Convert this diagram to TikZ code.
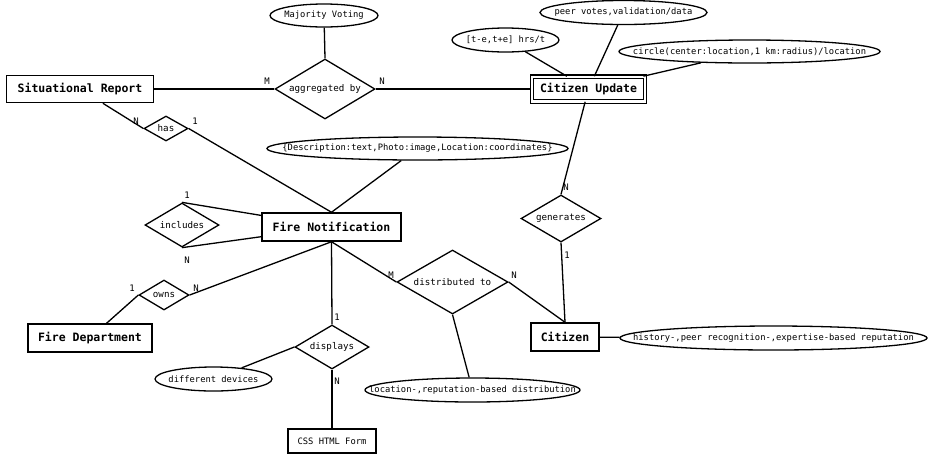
\documentclass[tikz,border=0pt]{standalone}
\usepackage{fontspec}
\usetikzlibrary{shapes.geometric, positioning}
\newfontfamily\ermono{DejaVu Sans Mono}
\newcommand{\fixw}[1]{\makebox[0pt]{#1}}
\tikzset{
  entity/.style={draw, rectangle, line width=1.5pt, inner sep=0pt, font=\ermono\fontsize{11.5}{13}\selectfont\bfseries},
  weakentity/.style={entity, line width=1.1pt, double, double distance=2.5pt},
  relation/.style={draw, diamond, line width=1.3pt, inner sep=0pt, font=\ermono\fontsize{9.2}{11}\selectfont},
  attr/.style={draw, ellipse, line width=1.3pt, inner sep=0pt, font=\ermono\fontsize{8.8}{10}\selectfont},
  card/.style={font=\ermono\fontsize{9}{10}\selectfont, inner sep=0pt},
  link/.style={line width=1.3pt}
}
\begin{document}
\begin{tikzpicture}[x=1pt, y=-1pt]
    \useasboundingbox (0,0) rectangle (933,456);
    % entities
    \node[entity, minimum width=147, minimum height=27] (sr) at (80,89) {Situational Report};
    \node[weakentity, minimum width=113, minimum height=24.5] (cu) at (588.5,89) {Citizen Update};
    \node[entity, minimum width=139, minimum height=28] (fn) at (331.5,227) {Fire Notification};
    \node[entity, minimum width=124, minimum height=28] (fd) at (90,338) {Fire Department};
    \node[entity, minimum width=68, minimum height=28] (cit) at (565,337) {Citizen};
    \node[entity, minimum width=88, minimum height=24, font=\ermono\fontsize{8.8}{10}\selectfont] (css) at (332,441) {CSS HTML Form};
    % relations
    \node[relation, minimum width=100, minimum height=60] (agg) at (325,89) {\fixw{aggregated by}};
    \node[relation, minimum width=44, minimum height=25] (has) at (166,128.5) {\fixw{has}};
    \node[relation, minimum width=74, minimum height=44] (inc) at (182,225) {\fixw{includes}};
    \node[relation, minimum width=50, minimum height=30] (owns) at (164,295) {\fixw{owns}};
    \node[relation, minimum width=74, minimum height=44] (disp) at (332,347) {\fixw{displays}};
    \node[relation, minimum width=111, minimum height=64] (dist) at (452.5,282) {\fixw{distributed to}};
    \node[relation, minimum width=80, minimum height=47] (gen) at (561,218.5) {\fixw{generates}};
    % attributes
    \node[attr, minimum width=108, minimum height=23] (mv) at (324,15.5) {\fixw{Majority Voting}};
    \node[attr, minimum width=107, minimum height=24] (time) at (505.5,40) {\fixw{[t-e,t+e] hrs/t}};
    \node[attr, minimum width=167, minimum height=24] (votes) at (623.5,12.5) {\fixw{peer votes,validation/data}};
    \node[attr, minimum width=261, minimum height=23] (circ) at (749.5,51.5) {\fixw{circle(center:location,1 km:radius)/location}};
    \node[attr, minimum width=301, minimum height=23] (desc) at (417.5,148.5) {\fixw{\{Description:text,Photo:image,Location:coordinates\}}};
    \node[attr, minimum width=117, minimum height=24] (dev) at (213.5,379) {\fixw{different devices}};
    \node[attr, minimum width=215, minimum height=24] (loc) at (472.5,390) {\fixw{location-,reputation-based distribution}};
    \node[attr, minimum width=307, minimum height=24] (hist) at (773.5,338) {\fixw{history-,peer recognition-,expertise-based reputation}};
    % connectors
    \draw[link] (mv) -- (agg.north);
    \draw[link] (sr) -- (agg.west);
    \draw[link] (agg.east) -- (cu);
    \draw[link] (time) -- (cu);
    \draw[link] (votes) -- (cu);
    \draw[link] (circ) -- (cu);
    \draw[link] (sr) -- (has.west);
    \draw[link] (has.east) -- (fn.north);
    \draw[link] (desc) -- (fn.north);
    \draw[link] (inc.north) -- (fn);
    \draw[link] (inc.south) -- (fn);
    \draw[link] (fn.south) -- (owns.east);
    \draw[link] (owns.west) -- (fd);
    \draw[link] (fn.south) -- (disp.north);
    \draw[link] (disp.south) -- (css.north);
    \draw[link] (dev) -- (disp.west);
    \draw[link] (fn.south) -- (dist.west);
    \draw[link] (dist.east) -- (cit.north);
    \draw[link] (dist.south) -- (loc);
    \draw[link] (cu) -- (gen.north);
    \draw[link] (gen.south) -- (cit.north);
    \draw[link] (cit) -- (hist);
    % cardinalities
    \node[card] (cAggM) at (267,81) {M};
    \node[card] (cAggN) at (382,81) {N};
    \node[card] (cHasN) at (136,121) {N};
    \node[card] (cHas1) at (195,121) {1};
    \node[card] (cInc1) at (187,195) {1};
    \node[card] (cIncN) at (187,260) {N};
    \node[card] (cOwns1) at (132,288) {1};
    \node[card] (cOwnsN) at (196,288) {N};
    \node[card] (cDisp1) at (337,317) {1};
    \node[card] (cDispN) at (337,381) {N};
    \node[card] (cDistM) at (391,275) {M};
    \node[card] (cDistN) at (514,275) {N};
    \node[card] (cGenN) at (566,187) {N};
    \node[card] (cGen1) at (567,255) {1};
\end{tikzpicture}
\end{document}
